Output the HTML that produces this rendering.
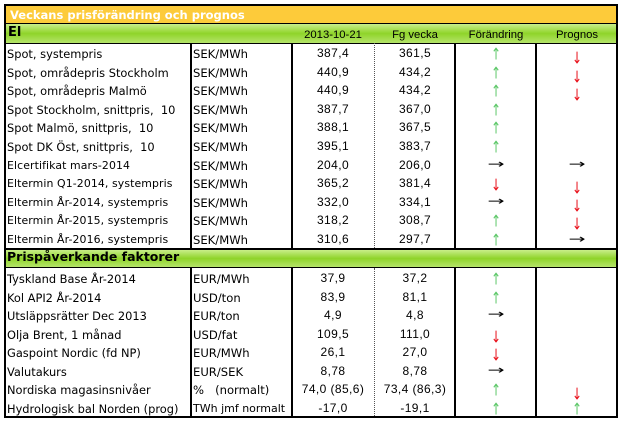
<!DOCTYPE html>
<html><head><meta charset="utf-8"><style>
*{margin:0;padding:0;box-sizing:border-box}
body{width:622px;height:424px;background:#fff;position:relative;overflow:hidden;font-family:"DejaVu Sans","Liberation Sans",sans-serif}
.a{position:absolute}
.title{left:4px;top:4px;width:614px;height:20px;background:#FDCB3A;border:2px solid #000;border-bottom:1px solid #000;color:#fff;font:bold 11.5px "DejaVu Sans",sans-serif;padding:2px 0 0 4px}
.bar{left:4px;width:614px;background:linear-gradient(#c9ee8a,#8fd42a 50%,#b5e46a);border-left:2px solid #000;border-right:2px solid #000}
.vl{position:absolute;width:2px;background:#000}
.lbl{position:absolute;left:7px;font-size:11.4px;color:#000;white-space:nowrap}
.sm{font-size:10.9px;letter-spacing:.1px}
.u{position:absolute;left:193px;font-size:11.6px;white-space:nowrap}
.v{position:absolute;width:80px;text-align:center;font:12px "Liberation Sans",sans-serif;letter-spacing:.4px;white-space:nowrap}
.h{position:absolute;width:80px;text-align:center;font:11.3px "Liberation Sans",sans-serif}
.up{color:#5ec86a}.dn{color:#e8101a}
.ar{position:absolute;width:80px;text-align:center;font:12px "DejaVu Sans",sans-serif;transform:scaleY(1.35)}
.rt{position:absolute;width:80px;text-align:center;font:12px "DejaVu Sans",sans-serif;color:#000;transform:scaleX(1.7)}
</style></head><body>
<div class="a title">Veckans prisförändring och prognos</div>
<div class="a bar" style="top:24px;height:19px"></div>
<div class="a" style="left:8px;top:25px;font:bold 13px 'DejaVu Sans',sans-serif">El</div>
<div class="h" style="left:293px;top:29px">2013-10-21</div>
<div class="h" style="left:375px;top:29px">Fg vecka</div>
<div class="h" style="left:456px;top:29px">Förändring</div>
<div class="h" style="left:537px;top:29px">Prognos</div>
<div class="a" style="left:4px;top:43px;width:614px;height:1px;background:#000"></div>
<div class="a bar" style="top:248px;height:20px;border-top:2px solid #000;border-bottom:1px solid #000"></div>
<div class="a" style="left:7px;top:249px;font:bold 12.5px 'DejaVu Sans',sans-serif">Prispåverkande faktorer</div>
<div class="a" style="left:4px;top:416px;width:614px;height:2px;background:#000"></div>
<div class="vl" style="left:4px;top:4px;height:414px"></div>
<div class="vl" style="left:616px;top:4px;height:414px"></div>
<div class="vl" style="left:190px;top:43px;height:205px"></div>
<div class="vl" style="left:291px;top:43px;height:205px"></div>
<div class="a" style="left:374px;top:43px;height:205px;border-left:1px dotted #555"></div>
<div class="vl" style="left:454px;top:43px;height:205px"></div>
<div class="vl" style="left:535px;top:43px;height:205px"></div>
<div class="vl" style="left:190px;top:268px;height:148px"></div>
<div class="vl" style="left:291px;top:268px;height:148px"></div>
<div class="a" style="left:374px;top:268px;height:148px;border-left:1px dotted #555"></div>
<div class="vl" style="left:454px;top:268px;height:148px"></div>
<div class="vl" style="left:535px;top:268px;height:148px"></div>

<div class="lbl" style="top:47px">Spot, systempris</div><div class="u" style="top:47px">SEK/MWh</div><div class="v" style="left:293px;top:46px">387,4</div><div class="v" style="left:375px;top:46px">361,5</div><div class="ar up" style="left:456px;top:47px">↑</div><div class="ar dn" style="left:537px;top:51px">↓</div>
<div class="lbl" style="top:66px">Spot, områdepris Stockholm</div><div class="u" style="top:66px">SEK/MWh</div><div class="v" style="left:293px;top:65px">440,9</div><div class="v" style="left:375px;top:65px">434,2</div><div class="ar up" style="left:456px;top:66px">↑</div><div class="ar dn" style="left:537px;top:70px">↓</div>
<div class="lbl" style="top:84px">Spot, områdepris Malmö</div><div class="u" style="top:84px">SEK/MWh</div><div class="v" style="left:293px;top:83px">440,9</div><div class="v" style="left:375px;top:83px">434,2</div><div class="ar up" style="left:456px;top:84px">↑</div><div class="ar dn" style="left:537px;top:88px">↓</div>
<div class="lbl" style="top:103px">Spot Stockholm, snittpris,&nbsp; 10</div><div class="u" style="top:103px">SEK/MWh</div><div class="v" style="left:293px;top:102px">387,7</div><div class="v" style="left:375px;top:102px">367,0</div><div class="ar up" style="left:456px;top:103px">↑</div>
<div class="lbl" style="top:121px">Spot Malmö, snittpris,&nbsp; 10</div><div class="u" style="top:121px">SEK/MWh</div><div class="v" style="left:293px;top:120px">388,1</div><div class="v" style="left:375px;top:120px">367,5</div><div class="ar up" style="left:456px;top:121px">↑</div>
<div class="lbl" style="top:140px">Spot DK Öst, snittpris,&nbsp; 10</div><div class="u" style="top:140px">SEK/MWh</div><div class="v" style="left:293px;top:139px">395,1</div><div class="v" style="left:375px;top:139px">383,7</div><div class="ar up" style="left:456px;top:140px">↑</div>
<div class="lbl sm" style="top:159px">Elcertifikat mars-2014</div><div class="u" style="top:159px">SEK/MWh</div><div class="v" style="left:293px;top:158px">204,0</div><div class="v" style="left:375px;top:158px">206,0</div><div class="rt" style="left:456px;top:157px">→</div><div class="rt" style="left:537px;top:157px">→</div>
<div class="lbl sm" style="top:177px">Eltermin Q1-2014, systempris</div><div class="u" style="top:177px">SEK/MWh</div><div class="v" style="left:293px;top:176px">365,2</div><div class="v" style="left:375px;top:176px">381,4</div><div class="ar dn" style="left:456px;top:178px">↓</div><div class="ar dn" style="left:537px;top:181px">↓</div>
<div class="lbl sm" style="top:196px">Eltermin År-2014, systempris</div><div class="u" style="top:196px">SEK/MWh</div><div class="v" style="left:293px;top:195px">332,0</div><div class="v" style="left:375px;top:195px">334,1</div><div class="rt" style="left:456px;top:194px">→</div><div class="ar dn" style="left:537px;top:199px">↓</div>
<div class="lbl sm" style="top:214px">Eltermin År-2015, systempris</div><div class="u" style="top:214px">SEK/MWh</div><div class="v" style="left:293px;top:213px">318,2</div><div class="v" style="left:375px;top:213px">308,7</div><div class="ar up" style="left:456px;top:214px">↑</div><div class="ar dn" style="left:537px;top:217px">↓</div>
<div class="lbl sm" style="top:233px">Eltermin År-2016, systempris</div><div class="u" style="top:233px">SEK/MWh</div><div class="v" style="left:293px;top:232px">310,6</div><div class="v" style="left:375px;top:232px">297,7</div><div class="ar up" style="left:456px;top:233px">↑</div><div class="rt" style="left:537px;top:232px">→</div>

<div class="lbl" style="top:272px">Tyskland Base År-2014</div><div class="u" style="top:272px">EUR/MWh</div><div class="v" style="left:293px;top:271px">37,9</div><div class="v" style="left:375px;top:271px">37,2</div><div class="ar up" style="left:456px;top:272px">↑</div>
<div class="lbl" style="top:291px">Kol API2 År-2014</div><div class="u" style="top:291px">USD/ton</div><div class="v" style="left:293px;top:290px">83,9</div><div class="v" style="left:375px;top:290px">81,1</div><div class="ar up" style="left:456px;top:291px">↑</div>
<div class="lbl" style="top:309px">Utsläppsrätter Dec 2013</div><div class="u" style="top:309px">EUR/ton</div><div class="v" style="left:293px;top:308px">4,9</div><div class="v" style="left:375px;top:308px">4,8</div><div class="rt" style="left:456px;top:307px">→</div>
<div class="lbl" style="top:328px">Olja Brent, 1 månad</div><div class="u" style="top:328px">USD/fat</div><div class="v" style="left:293px;top:327px">109,5</div><div class="v" style="left:375px;top:327px">111,0</div><div class="ar dn" style="left:456px;top:330px">↓</div>
<div class="lbl" style="top:346px">Gaspoint Nordic (fd NP)</div><div class="u" style="top:346px">EUR/MWh</div><div class="v" style="left:293px;top:345px">26,1</div><div class="v" style="left:375px;top:345px">27,0</div><div class="ar dn" style="left:456px;top:348px">↓</div>
<div class="lbl" style="top:365px">Valutakurs</div><div class="u" style="top:365px">EUR/SEK</div><div class="v" style="left:293px;top:364px">8,78</div><div class="v" style="left:375px;top:364px">8,78</div><div class="rt" style="left:456px;top:363px">→</div>
<div class="lbl" style="top:383px">Nordiska magasinsnivåer</div><div class="u" style="top:383px">%&nbsp;&nbsp; (normalt)</div><div class="v" style="left:293px;top:382px">74,0 (85,6)</div><div class="v" style="left:375px;top:382px">73,4 (86,3)</div><div class="ar up" style="left:456px;top:383px">↑</div><div class="ar dn" style="left:537px;top:387px">↓</div>
<div class="lbl" style="top:402px">Hydrologisk bal Norden (prog)</div><div class="u" style="top:402px;font-size:11px">TWh jmf normalt</div><div class="v" style="left:293px;top:401px">-17,0</div><div class="v" style="left:375px;top:401px">-19,1</div><div class="ar up" style="left:456px;top:402px">↑</div><div class="ar up" style="left:537px;top:402px">↑</div>
</body></html>
